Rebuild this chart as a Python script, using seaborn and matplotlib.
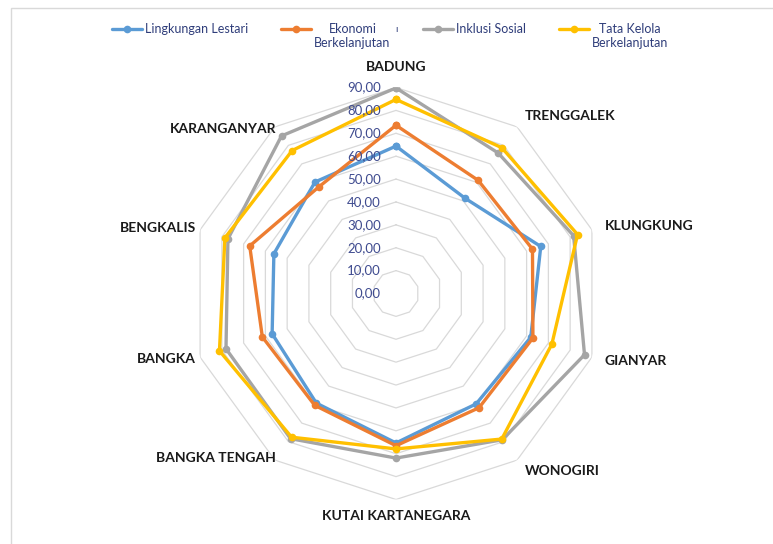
import numpy as np
import pandas as pd
import matplotlib.pyplot as plt
import seaborn as sns
from matplotlib.lines import Line2D
from matplotlib.patches import Rectangle
from matplotlib.transforms import Affine2D

sns.set_theme(style="white")
plt.rcParams['font.family'] = ['Lato', 'DejaVu Sans']

# data
categories = ["BADUNG", "TRENGGALEK", "KLUNGKUNG", "GIANYAR", "WONOGIRI",
              "KUTAI KARTANEGARA", "BANGKA TENGAH", "BANGKA", "BENGKALIS", "KARANGANYAR"]
lingkungan = [64.4, 51.4, 66.5, 61.9, 59.6, 65.3, 59.2, 56.9, 56.1, 60.2]
ekonomi = [73.5, 61.1, 62.7, 62.9, 61.7, 66.5, 60.4, 61.4, 67.2, 57.5]
inklusi = [89.8, 75.9, 81.6, 86.6, 79.0, 71.9, 78.4, 78.1, 77.2, 85.1]
tata_kelola = [84.8, 78.7, 83.4, 71.6, 78.6, 67.9, 77.6, 81.1, 78.6, 77.2]

series_names = ["Lingkungan Lestari", "Ekonomi\nBerkelanjutan", "Inklusi Sosial", "Tata Kelola\nBerkelanjutan"]
series_values = [lingkungan, ekonomi, inklusi, tata_kelola]
colors = ["#5B9BD5", "#ED7D31", "#A5A5A5", "#FFC000"]
palette = dict(zip(series_names, colors))

rticks = [0, 10, 20, 30, 40, 50, 60, 70, 80, 90]
rtick_labels = ["0,00", "10,00", "20,00", "30,00", "40,00", "50,00", "60,00", "70,00", "80,00", "90,00"]

n = len(categories)
theta = np.linspace(0, 2 * np.pi, n, endpoint=False)
theta_closed = np.append(theta, 2 * np.pi)

rows = []
for name, vals in zip(series_names, series_values):
    vals_closed = list(vals) + [vals[0]]
    for t, v in zip(theta_closed, vals_closed):
        rows.append({"series": name, "theta": t, "value": v})
df = pd.DataFrame(rows)

fig = plt.figure(figsize=(7.73, 5.44), dpi=100)
cx, cy, rad = 396, 293.5, 206
ax = fig.add_axes([(cx - rad) / 773, (544 - cy - rad) / 544, 2 * rad / 773, 2 * rad / 544],
                  projection="polar")
ax.set_theta_zero_location("N")
ax.set_theta_direction(-1)
ax.set_ylim(0, 90)
ax.grid(False)
ax.spines["polar"].set_visible(False)
ax.set_xticks([])
ax.set_yticks([])
ax.set_facecolor("white")

# polygon grid (Excel style)
for r in rticks[1:]:
    ax.plot(theta_closed, [r] * (n + 1), color="#D9D9D9", lw=0.9, zorder=1)

sns.lineplot(data=df, x="theta", y="value", hue="series", palette=palette,
             sort=False, estimator=None, marker="o", markersize=5.5, markeredgewidth=0,
             linewidth=2.4, legend=False, ax=ax, zorder=3)
ax.set_xlabel("")
ax.set_ylabel("")

# radial value labels
for r, lab in zip(rticks, rtick_labels):
    ax.annotate(lab, xy=(0, r), xytext=(-11, 0), textcoords="offset points",
                ha="right", va="center", fontsize=9.5, color="#3F4B8F",
                annotation_clip=False, zorder=5)

# category labels
label_r = [99, 96, 96, 96, 96, 97, 89, 92, 92, 89]
for t, cat, rr in zip(theta, categories, label_r):
    s = np.sin(t)
    if abs(s) < 1e-6:
        ha = "center"
    elif s > 0:
        ha = "left"
    else:
        ha = "right"
    ax.text(t, rr, cat, ha=ha, va="center", fontsize=10, fontweight="bold", color="#1a1a1a")

# legend: every entry two lines, handles on the first line
leg_labels = [s if "\n" in s else s + "\n " for s in series_names]
handles = [Line2D([], [], color=c, lw=2.4, marker="o", markersize=5.5, markeredgewidth=0) for c in colors]
leg = fig.legend(handles, leg_labels, loc="upper center", bbox_to_anchor=(0.505, 0.978),
                 ncol=4, frameon=False, fontsize=9, handlelength=2.4, handletextpad=0.25,
                 columnspacing=2.6, labelcolor="#2F3D7A")
for txt in leg.get_texts():
    txt.set_multialignment("center")
for h in leg.legend_handles:
    h.set_transform(h.get_transform() + Affine2D().translate(0, 7.5))

fig.text(396 / 773, 1 - 29 / 544, "ı", fontsize=7, color="#2F3D7A", ha="center", va="center")

fig.add_artist(Rectangle((11 / 773, -0.1), 1.0, 1 - 8 / 544 + 0.1, transform=fig.transFigure,
                         fill=False, ec="#D9D9D9", lw=1))

fig.savefig("out.png", dpi=100)
